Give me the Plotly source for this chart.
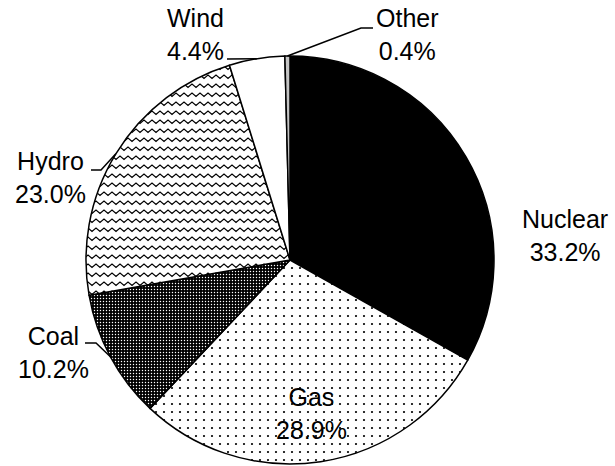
import math
import plotly.graph_objects as go

# Electricity generation mix (share of total, %)
sources = ["Nuclear", "Gas", "Coal", "Hydro", "Wind", "Other"]
shares = [33.2, 28.9, 10.2, 23.0, 4.4, 0.4]

W, H = 615, 466
CX, CY, R = 290, 260, 204          # pie centre and radius in pixels

# per-slice fill styles
fill_colors = ["black", "white", "black", "white", "white", "#c4c4c4"]
pat_shapes = ["", ".", ".", "-", "", ""]
pat_fg = ["black", "black", "white", "black", "black", "black"]
pat_bg = ["black", "white", "black", "white", "white", "#c4c4c4"]
pat_size = [8, 8, 3, 9, 8, 8]
pat_solid = [0.3, 0.06, 0.18, 0.12, 0.3, 0.3]

# label block centres (px) and leader-line elbows (px) for outside labels
label_pos = {
    "Nuclear": (565, 235),
    "Gas": (311, 413),
    "Coal": (53, 352),
    "Hydro": (50, 177),
    "Wind": (195, 34),
    "Other": (407, 34),
}
leaders = {
    "Coal": [(85, 343), (96, 343)],
    "Hydro": [(91, 170), (101, 170)],
    "Wind": [(227, 59)],
    "Other": [(373, 28), (361, 28)],
}


def px(x):
    return x / W


def py(y):
    return 1 - y / H


fig = go.Figure(go.Pie(
    labels=sources,
    values=shares,
    sort=False,
    direction="clockwise",
    rotation=0,
    textinfo="none",
    hoverinfo="label+percent",
    showlegend=False,
    domain=dict(x=[px(CX - R), px(CX + R)], y=[py(CY + R), py(CY - R)]),
    marker=dict(
        colors=fill_colors,
        line=dict(color="black", width=1.5),
        pattern=dict(
            shape=pat_shapes,
            fgcolor=pat_fg,
            bgcolor=pat_bg,
            size=pat_size,
            solidity=pat_solid,
            fillmode="replace",
        ),
    ),
))

total = sum(shares)
cum = 0.0
annotations = []
shapes = []
for name, v in zip(sources, shares):
    mid = (cum + v / 2) / total * 2 * math.pi
    cum += v
    lx, ly = label_pos[name]
    annotations.append(dict(
        x=px(lx), y=py(ly), xref="paper", yref="paper",
        xanchor="center", yanchor="middle", align="center",
        text=f"{name}<br>{v:.1f}%", showarrow=False,
        font=dict(family="Liberation Sans, Arial, sans-serif", size=25, color="black"),
    ))
    if name in leaders:
        ex, ey = CX + R * math.sin(mid), CY - R * math.cos(mid)
        pts = leaders[name] + [(ex, ey)]
        path = "M " + " L ".join(f"{px(a):.5f},{py(b):.5f}" for a, b in pts)
        shapes.append(dict(type="path", xref="paper", yref="paper", path=path,
                           line=dict(color="black", width=1.5)))

fig.update_layout(
    width=W, height=H,
    margin=dict(l=0, r=0, t=0, b=0),
    paper_bgcolor="white", plot_bgcolor="white",
    annotations=annotations,
    shapes=shapes,
)

# swap the Hydro slice's line pattern for a zigzag tile
zigzag_js = """
var gd = document.querySelector('.plotly-graph-div');
var paths = gd.querySelectorAll('g.slice path.surface');
var s = paths[3];
if (s) {
  var f = s.style.fill || s.getAttribute('fill') || '';
  var m = /#([^"')]+)/.exec(f);
  var pat = m ? document.getElementById(m[1]) : null;
  if (pat) {
    var ns = 'http://www.w3.org/2000/svg';
    while (pat.firstChild) pat.removeChild(pat.firstChild);
    pat.removeAttribute('viewBox');
    pat.removeAttribute('patternTransform');
    pat.setAttribute('patternUnits', 'userSpaceOnUse');
    pat.setAttribute('width', 8);
    pat.setAttribute('height', 9);
    var bg = document.createElementNS(ns, 'rect');
    bg.setAttribute('width', 8); bg.setAttribute('height', 9);
    bg.setAttribute('fill', 'white');
    pat.appendChild(bg);
    var z = document.createElementNS(ns, 'path');
    z.setAttribute('d', 'M-2,6.5 L0,3 L4,6.5 L8,3 L10,6.5');
    z.setAttribute('fill', 'none');
    z.setAttribute('stroke', 'black');
    z.setAttribute('stroke-width', '1.3');
    pat.appendChild(z);
  }
}
"""

fig.write_html("out.html", post_script=zigzag_js)
